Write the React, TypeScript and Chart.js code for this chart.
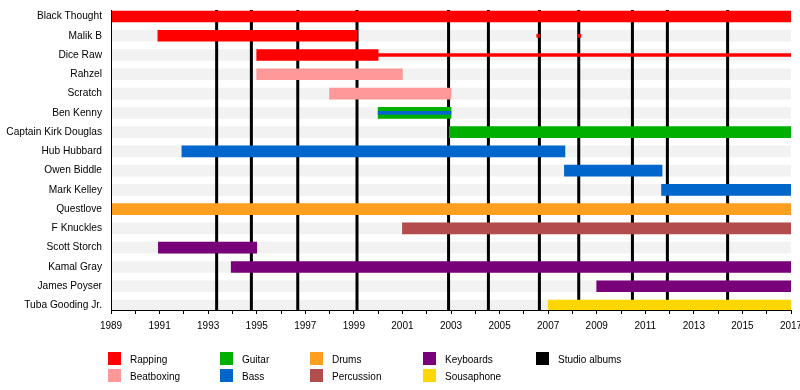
import React, { useEffect, useRef } from 'react';
import { Chart, registerables } from 'chart.js';

Chart.register(...registerables);

const members = [
  'Black Thought', 'Malik B', 'Dice Raw', 'Rahzel', 'Scratch', 'Ben Kenny',
  'Captain Kirk Douglas', 'Hub Hubbard', 'Owen Biddle', 'Mark Kelley', 'Questlove',
  'F Knuckles', 'Scott Storch', 'Kamal Gray', 'James Poyser', 'Tuba Gooding Jr.',
];

const roleNames = ['Rapping', 'Beatboxing', 'Guitar', 'Bass', 'Drums', 'Percussion', 'Keyboards', 'Sousaphone'];
const roleColors = ['#ff0000', '#ff9999', '#00b000', '#0066cc', '#ff9f1f', '#b34d4d', '#780078', '#ffd700'];

const albumLabel = 'Studio albums';
const albumColor = '#000000';
const albumYears = [1993.35, 1994.78, 1996.69, 1999.13, 2002.9, 2004.54, 2006.64, 2008.26, 2010.47, 2011.91, 2014.39];

// main membership bars
const barMember = [0, 1, 2, 3, 4, 5, 6, 7, 8, 9, 10, 11, 12, 13, 14, 15];
const barStart = [1989, 1990.93, 1995, 1995, 1998, 2000, 2002.93, 1991.92, 2007.67, 2011.67, 1989, 2001, 1990.95, 1993.95, 2009, 2007];
const barEnd = [2017, 1999.14, 2000, 2001, 2003, 2003, 2017, 2007.69, 2011.69, 2017, 2017, 2017, 1995, 2017, 2017, 2017];
const barRole = [0, 0, 0, 1, 1, 2, 2, 3, 3, 3, 4, 5, 6, 6, 6, 7];

// secondary (thin) bars: guest/secondary roles
const thinMember = [2, 5, 1, 1];
const thinStart = [2000, 2000, 2006.53, 2008.22];
const thinEnd = [2017, 2003, 2006.66, 2008.35];
const thinRole = [0, 3, 0, 0];

const startYear = 1989;
const endYear = 2017;
const Y_MIN = -0.337;
const Y_MAX = 15.234;

const FONT_FAMILY = '"Liberation Sans", Arial, Helvetica, sans-serif';
const LEGEND_COL_X = [108, 220, 310, 423, 536];
const LEGEND_ROW_Y = [352, 369];

export default function App() {
  const canvasRef = useRef<HTMLCanvasElement | null>(null);

  useEffect(() => {
    const canvas = canvasRef.current;
    if (!canvas) return;
    const font = { family: FONT_FAMILY, size: 10 };
    const yFont = { family: FONT_FAMILY, size: 10.2 };
    const albumData: any[] = [];
    albumYears.forEach((a) => {
      albumData.push({ x: a, y: Y_MIN }, { x: a, y: Y_MAX }, { x: null, y: null });
    });
    const chart = new Chart(canvas, {
      type: 'bar',
      data: {
        datasets: [
          {
            label: 'rows',
            data: members.map((_, i) => ({ x: [startYear, endYear], y: i })) as any,
            backgroundColor: '#f2f2f2',
            barThickness: 11,
            grouped: false,
            order: 3,
          } as any,
          {
            type: 'line',
            label: albumLabel,
            data: albumData,
            borderColor: albumColor,
            borderWidth: 3,
            pointRadius: 0,
            spanGaps: false,
            fill: false,
            order: 2,
          } as any,
          {
            label: 'members',
            data: barMember.map((m, i) => ({ x: [barStart[i], barEnd[i]], y: m })) as any,
            backgroundColor: barRole.map((r) => roleColors[r]),
            barThickness: 11,
            grouped: false,
            order: 1,
          } as any,
          {
            label: 'secondary',
            data: thinMember.map((m, i) => ({ x: [thinStart[i], thinEnd[i]], y: m })) as any,
            backgroundColor: thinRole.map((r) => roleColors[r]),
            barThickness: 3,
            grouped: false,
            order: 0,
          } as any,
        ],
      },
      options: {
        indexAxis: 'y',
        responsive: false,
        animation: false,
        layout: { padding: { left: 0, right: 9, top: 10, bottom: 60 }, autoPadding: false },
        plugins: { legend: { display: false }, tooltip: { enabled: false } },
        scales: {
          x: {
            type: 'linear',
            min: startYear,
            max: endYear,
            offset: false,
            ticks: {
              stepSize: 1,
              autoSkip: false,
              maxRotation: 0,
              color: '#000',
              font,
              padding: 6,
              callback: (v: any) => ((Number(v) - startYear) % 2 === 0 ? String(v) : ''),
            },
            grid: { drawOnChartArea: false, tickLength: 4, color: '#000', offset: false },
            border: { color: '#000', width: 1, z: 1 },
            afterFit: (s: any) => {
              s.height = 20;
              s.paddingLeft = 0;
              s.paddingRight = 0;
            },
          },
          y: {
            type: 'linear',
            reverse: true,
            min: Y_MIN,
            max: Y_MAX,
            offset: false,
            afterBuildTicks: (s: any) => {
              s.ticks = members.map((_, i) => ({ value: i }));
            },
            ticks: {
              autoSkip: false,
              color: '#000',
              font: yFont,
              padding: 9,
              callback: (v: any) => members[v as number] ?? '',
            },
            grid: { display: false, drawTicks: false, offset: false },
            border: { display: true, color: '#000', width: 1, z: 1 },
            afterFit: (s: any) => {
              s.width = 111;
              s.paddingTop = 0;
              s.paddingBottom = 0;
            },
          },
        },
      } as any,
    });
    return () => chart.destroy();
  }, []);

  const legendItems = [
    ...roleNames.map((n, i) => ({ name: n, color: roleColors[i] })),
    { name: albumLabel, color: albumColor },
  ];

  return (
    <div style={{ position: 'fixed', left: 0, top: 0, width: 800, height: 390, background: '#fff', overflow: 'hidden' }}>
      <canvas ref={canvasRef} width={800} height={390} style={{ display: 'block' }} />
      {legendItems.map((it, i) => {
        const col = Math.floor(i / 2);
        const row = i % 2;
        const x = LEGEND_COL_X[col];
        const y = LEGEND_ROW_Y[row];
        return (
          <React.Fragment key={it.name}>
            <div style={{ position: 'absolute', left: x, top: y, width: 13, height: 13, background: it.color }} />
            <div
              style={{
                position: 'absolute',
                left: x + 22,
                top: y + 2,
                fontFamily: FONT_FAMILY,
                fontSize: 10,
                lineHeight: '12px',
                color: '#000',
                whiteSpace: 'nowrap',
              }}
            >
              {it.name}
            </div>
          </React.Fragment>
        );
      })}
    </div>
  );
}
